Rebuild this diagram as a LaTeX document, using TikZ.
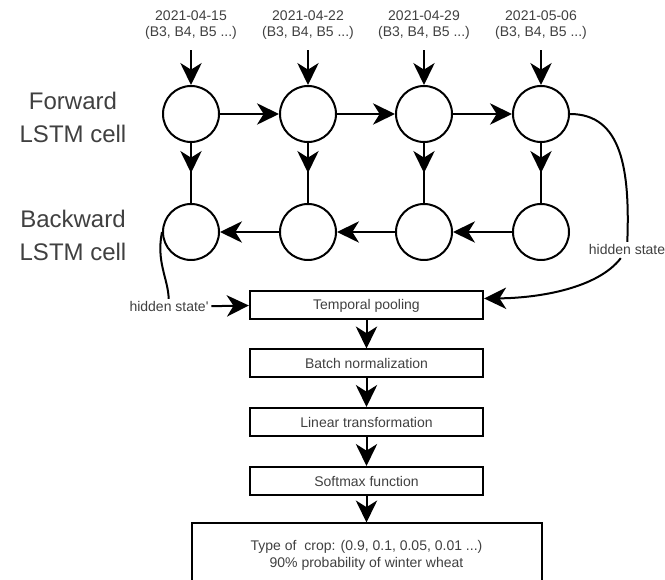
\documentclass[tikz,border=0pt]{standalone}
\usepackage{fontspec}
\setmainfont{Liberation Sans}
\usetikzlibrary{arrows.meta,decorations.markings,calc}

\begin{document}
\begin{tikzpicture}[x=0.75pt,y=-0.75pt,
  line width=1.5pt,
  >={Stealth[length=16.5pt,width=16pt,inset=5pt]},
  cell/.style={circle,draw,minimum size=42pt,inner sep=0pt},
  stage/.style={draw,minimum width=175pt,minimum height=21pt,inner sep=0pt,
    font=\fontsize{10.5}{12.5}\selectfont,text=black!75},
  datelabel/.style={align=center,inner sep=0pt,
    font=\fontsize{10.5}{12}\selectfont,text=black!75},
  rowlabel/.style={align=center,inner sep=0pt,
    font=\fontsize{18}{24.75}\selectfont,text=black!75},
  edgelabel/.style={fill=white,inner sep=1.5pt,
    font=\fontsize{10.5}{12}\selectfont,text=black!75},
  midarrow/.style={postaction={decorate},decoration={markings,
    mark=at position 0.5 with {\arrow{>}}}}
]
\useasboundingbox (0,0) rectangle (665,580);

% input time steps
\node[datelabel] (d1) at (191,25) {2021-04-15\\(B3, B4, B5 ...)};
\node[datelabel] (d2) at (308,25) {2021-04-22\\(B3, B4, B5 ...)};
\node[datelabel] (d3) at (424,25) {2021-04-29\\(B3, B4, B5 ...)};
\node[datelabel] (d4) at (541,25) {2021-05-06\\(B3, B4, B5 ...)};

% row labels
\node[rowlabel] (lf) at (73,117) {Forward\\LSTM cell};
\node[rowlabel] (lb) at (73,235) {Backward\\LSTM cell};

% forward and backward cells
\foreach \i/\x in {1/191,2/308,3/424,4/541}{
  \node[cell] (f\i) at (\x,114) {};
  \node[cell] (b\i) at (\x,232) {};
}

% pipeline stages
\node[stage] (tp) at (366.5,305.5) {Temporal pooling};
\node[stage] (bn) at (366.5,363.5) {Batch normalization};
\node[stage] (lt) at (366.5,422) {Linear transformation};
\node[stage] (sm) at (366.5,481) {Softmax function};
\node[draw,minimum width=262.5pt,minimum height=48pt,inner sep=0pt,align=center,
  font=\fontsize{10.5}{12.75}\selectfont,text=black!75] (out) at (366.5,555.5)
  {Type of\ \ crop: (0.9, 0.1, 0.05, 0.01 ...)\\90\% probability of winter wheat};

% inputs into forward cells, forward-to-backward links
\foreach \i in {1,...,4}{
  \draw[->,shorten <=7.5pt] (d\i) -- (f\i);
  \draw[midarrow] (f\i) -- (b\i);
}

% recurrent connections
\draw[->] (f1) -- (f2);
\draw[->] (f2) -- (f3);
\draw[->] (f3) -- (f4);
\draw[->] (b4) -- (b3);
\draw[->] (b3) -- (b2);
\draw[->] (b2) -- (b1);

% hidden states into temporal pooling
\node[edgelabel] (hs) at (627,250) {hidden state};
\coordinate (tpr) at ($(tp.east)+(0,-7)$);
\draw (f4.east) .. controls (622,114) and (630,170) .. (hs);
\draw[->] (hs) .. controls (598,288) and (540,298) .. (tpr);

\node[edgelabel] (hsl) at (169,307) {hidden state\textquotesingle};
\draw (b1.west) .. controls (156,262) and (168,278) .. (hsl);
\draw[->] (hsl) -- (tp.west);

% classification head
\draw[->] (tp) -- (bn);
\draw[->] (bn) -- (lt);
\draw[->] (lt) -- (sm);
\draw[->] (sm) -- (out);
\end{tikzpicture}
\end{document}
